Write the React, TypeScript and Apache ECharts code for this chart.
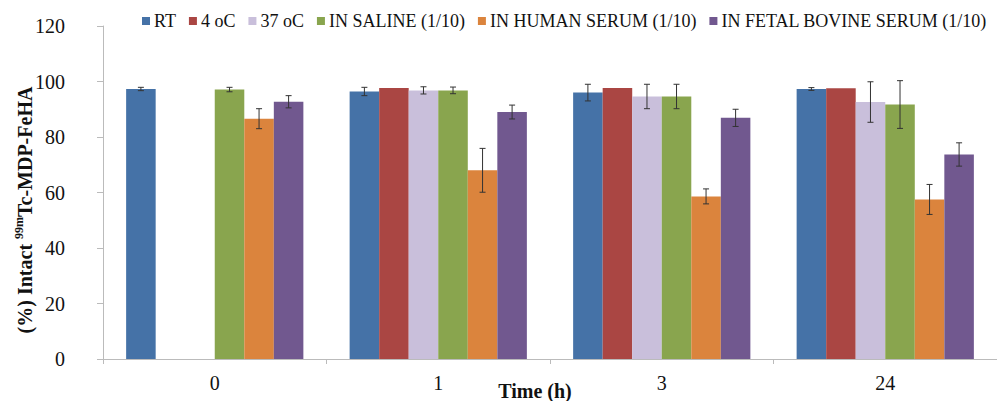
import React, { useEffect, useRef } from "react";
import * as echarts from "echarts";

const categories = ["0", "1", "3", "24"];
const seriesNames = ["RT", "4 oC", "37 oC", "IN SALINE (1/10)", "IN HUMAN SERUM (1/10)", "IN FETAL BOVINE SERUM (1/10)"];
const colors = ["#4572A7", "#AA4643", "#C9BFDB", "#89A54E", "#DB843D", "#71588F"];

const rtValues = [97.3, 96.4, 96.0, 97.3];
const rtErrors = [0.6, 1.5, 3.0, 0.5];
const c4Values = [null, 97.7, 97.7, 97.6];
const c4Errors = [null, 0, 0, 0];
const c37Values = [null, 96.8, 94.6, 92.6];
const c37Errors = [null, 1.3, 4.4, 7.3];
const salineValues = [97.1, 96.8, 94.6, 91.7];
const salineErrors = [0.8, 1.2, 4.4, 8.6];
const humanValues = [86.6, 68.0, 58.6, 57.5];
const humanErrors = [3.6, 7.9, 2.7, 5.4];
const fbsValues = [92.7, 89.0, 86.9, 73.7];
const fbsErrors = [2.2, 2.5, 3.1, 4.2];

const yTicks = [0, 20, 40, 60, 80, 100, 120];

const allValues = [rtValues, c4Values, c37Values, salineValues, humanValues, fbsValues];
const allErrors = [rtErrors, c4Errors, c37Errors, salineErrors, humanErrors, fbsErrors];

const GAP = 0.207;

export default function App() {
  const ref = useRef<HTMLDivElement>(null);
  useEffect(() => {
    if (!ref.current) return;
    const chart = echarts.init(ref.current, undefined, { renderer: "svg" });
    const serif = "Liberation Serif";
    const barSeries = seriesNames.map((name, i) => ({
      name,
      type: "bar",
      data: allValues[i],
      itemStyle: { color: colors[i] },
      barGap: "0%",
      barCategoryGap: GAP * 100 + "%",
      z: 2,
    }));
    const errSeries = seriesNames.map((name, i) => ({
      name: name + " err",
      type: "custom",
      z: 5,
      silent: true,
      encode: { x: 0, y: 1 },
      data: categories
        .map((_, k) => [k, allValues[i][k], allErrors[i][k]])
        .filter((d) => d[1] != null && (d[2] as number) > 0),
      renderItem: (params: any, api: any) => {
        const k = api.value(0);
        const v = api.value(1);
        const e = api.value(2);
        const catW = api.size([1, 0])[0];
        const bw = (catW * (1 - GAP)) / 6;
        const c = api.coord([k, v]);
        const x = c[0] + (i - 2.5) * bw;
        const yt = api.coord([k, v + e])[1];
        const yb = api.coord([k, v - e])[1];
        const st = { stroke: "#333", lineWidth: 1 };
        return {
          type: "group",
          children: [
            { type: "line", shape: { x1: x, y1: yt, x2: x, y2: yb }, style: st },
            { type: "line", shape: { x1: x - 3, y1: yt, x2: x + 3, y2: yt }, style: st },
            { type: "line", shape: { x1: x - 3, y1: yb, x2: x + 3, y2: yb }, style: st },
          ],
        };
      },
    }));
    chart.setOption({
      animation: false,
      textStyle: { fontFamily: serif },
      legend: {
        data: seriesNames,
        left: 137,
        top: 7,
        itemWidth: 8,
        itemHeight: 8,
        itemGap: 13,
        icon: "rect",
        textStyle: { fontFamily: serif, fontSize: 18, color: "#111", padding: [0, 0, 0, -1] },
      },
      grid: { left: 103, top: 26, width: 908, height: 333, containLabel: false },
      xAxis: {
        type: "category",
        data: categories,
        axisLine: { lineStyle: { color: "#BBBBBB" } },
        axisTick: { show: true, length: 5, lineStyle: { color: "#BBBBBB" } },
        axisLabel: { fontFamily: serif, fontSize: 20, color: "#111", margin: 14 },
      },
      yAxis: {
        type: "value",
        min: 0,
        max: 120,
        interval: 20,
        splitLine: { show: false },
        axisLine: { show: true, lineStyle: { color: "#BBBBBB" } },
        axisTick: { show: true, length: 6, lineStyle: { color: "#BBBBBB" } },
        axisLabel: {
          fontFamily: serif,
          fontSize: 20,
          color: "#111",
          margin: 38,
          formatter: (v: number) => (yTicks.includes(v) ? String(v) : ""),
        },
      },
      graphic: [
        {
          type: "text",
          x: 25,
          y: 210,
          rotation: Math.PI / 2,
          style: {
            text: "{b|(%) Intact }{s|99m}{b|Tc-MDP-FeHA}",
            align: "center",
            verticalAlign: "middle",
            fill: "#111",
            rich: {
              b: { fontFamily: serif, fontSize: 20, fontWeight: "bold", lineHeight: 24, fill: "#111" },
              s: { fontFamily: serif, fontSize: 12, fontWeight: "bold", verticalAlign: "top", fill: "#111" },
            },
          },
        },
        {
          type: "text",
          x: 535,
          y: 391,
          style: {
            text: "Time (h)",
            align: "center",
            verticalAlign: "middle",
            fontFamily: serif,
            fontSize: 20,
            fontWeight: "bold",
            fill: "#111",
          },
        },
      ],
      series: [...barSeries, ...errSeries],
    });
    return () => chart.dispose();
  }, []);
  return (
    <div
      ref={ref}
      style={{ position: "fixed", left: 0, top: 0, width: 997, height: 401, background: "#fff" }}
    />
  );
}
